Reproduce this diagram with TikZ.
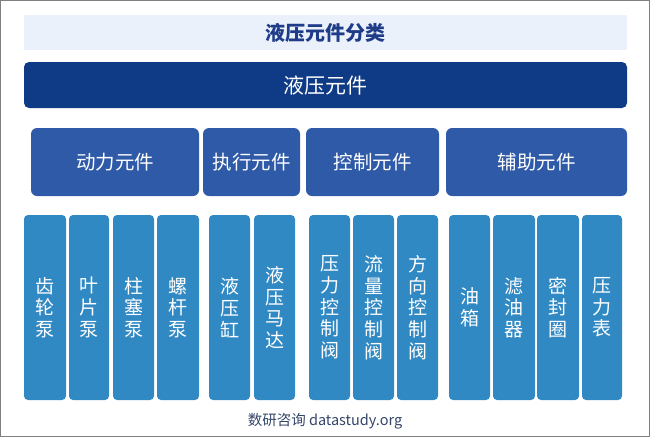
\documentclass[tikz,border=0pt]{standalone}
\usepackage{fontspec}
\setmainfont{Noto Sans CJK SC}
\definecolor{titlebg}{HTML}{EAF1FB}
\definecolor{titlefg}{HTML}{1F3C88}
\definecolor{rootbg}{HTML}{0F3A85}
\definecolor{midbg}{HTML}{2E5AA8}
\definecolor{leafbg}{HTML}{3189C4}
\definecolor{footfg}{HTML}{34456A}
\newcommand\bx[7]{\node[#6, minimum width={(#4-#2)*1pt}, minimum height={(#5-#3)*1pt}] (#1) at ({(#2+#4)/2},{(#3+#5)/2}) {#7};}
\tikzset{
  titlebox/.style={fill=titlebg, inner sep=0pt, text=titlefg, font=\fontsize{20}{23}\selectfont\bfseries},
  rootbox/.style={fill=rootbg, rounded corners=5pt, inner sep=0pt, text=white, font=\fontsize{21}{24}\selectfont},
  midbox/.style={fill=midbg, rounded corners=6pt, inner sep=0pt, text=white, font=\fontsize{19.5}{22}\selectfont},
  leafbox/.style={fill=leafbg, rounded corners=4pt, inner sep=0pt, text=white, align=center, font=\fontsize{19}{21.7}\selectfont},
}
\begin{document}
\begin{tikzpicture}[x=1pt,y=-1pt]
\path[use as bounding box] (0,0) rectangle (650,437);
\draw[gray, line width=1.2pt] (0.6,0.6) rectangle (649.4,436.4);
\bx{t}{24}{15}{627}{50}{titlebox}{液压元件分类}
\bx{root}{24}{62}{627}{108}{rootbox}{液压元件}
\bx{a}{31}{128}{199}{196}{midbox}{动力元件}
\bx{b}{203}{128}{300}{196}{midbox}{执行元件}
\bx{c}{306}{128}{439}{196}{midbox}{控制元件}
\bx{d}{446}{128}{627}{196}{midbox}{辅助元件}
\bx{a1}{24}{215}{66}{400}{leafbox}{齿\\轮\\泵}
\bx{a2}{69}{215}{109}{400}{leafbox}{叶\\片\\泵}
\bx{a3}{113}{215}{154}{400}{leafbox}{柱\\塞\\泵}
\bx{a4}{157}{215}{199}{400}{leafbox}{螺\\杆\\泵}
\bx{b1}{209}{215}{250}{400}{leafbox}{液\\压\\缸}
\bx{b2}{254}{215}{295}{400}{leafbox}{液\\压\\马\\达}
\bx{c1}{309}{215}{350}{400}{leafbox}{压\\力\\控\\制\\阀}
\bx{c2}{353}{215}{394}{400}{leafbox}{流\\量\\控\\制\\阀}
\bx{c3}{397}{215}{438}{400}{leafbox}{方\\向\\控\\制\\阀}
\bx{d1}{449}{215}{490}{400}{leafbox}{油\\箱}
\bx{d2}{493}{215}{535}{400}{leafbox}{滤\\油\\器}
\bx{d3}{537}{215}{579}{400}{leafbox}{密\\封\\圈}
\bx{d4}{582}{215}{622}{400}{leafbox}{压\\力\\表}
\node[text=footfg, font=\fontsize{14.5}{17}\selectfont] (foot) at (325,421) {数研咨询 datastudy.org};
\end{tikzpicture}
\end{document}
